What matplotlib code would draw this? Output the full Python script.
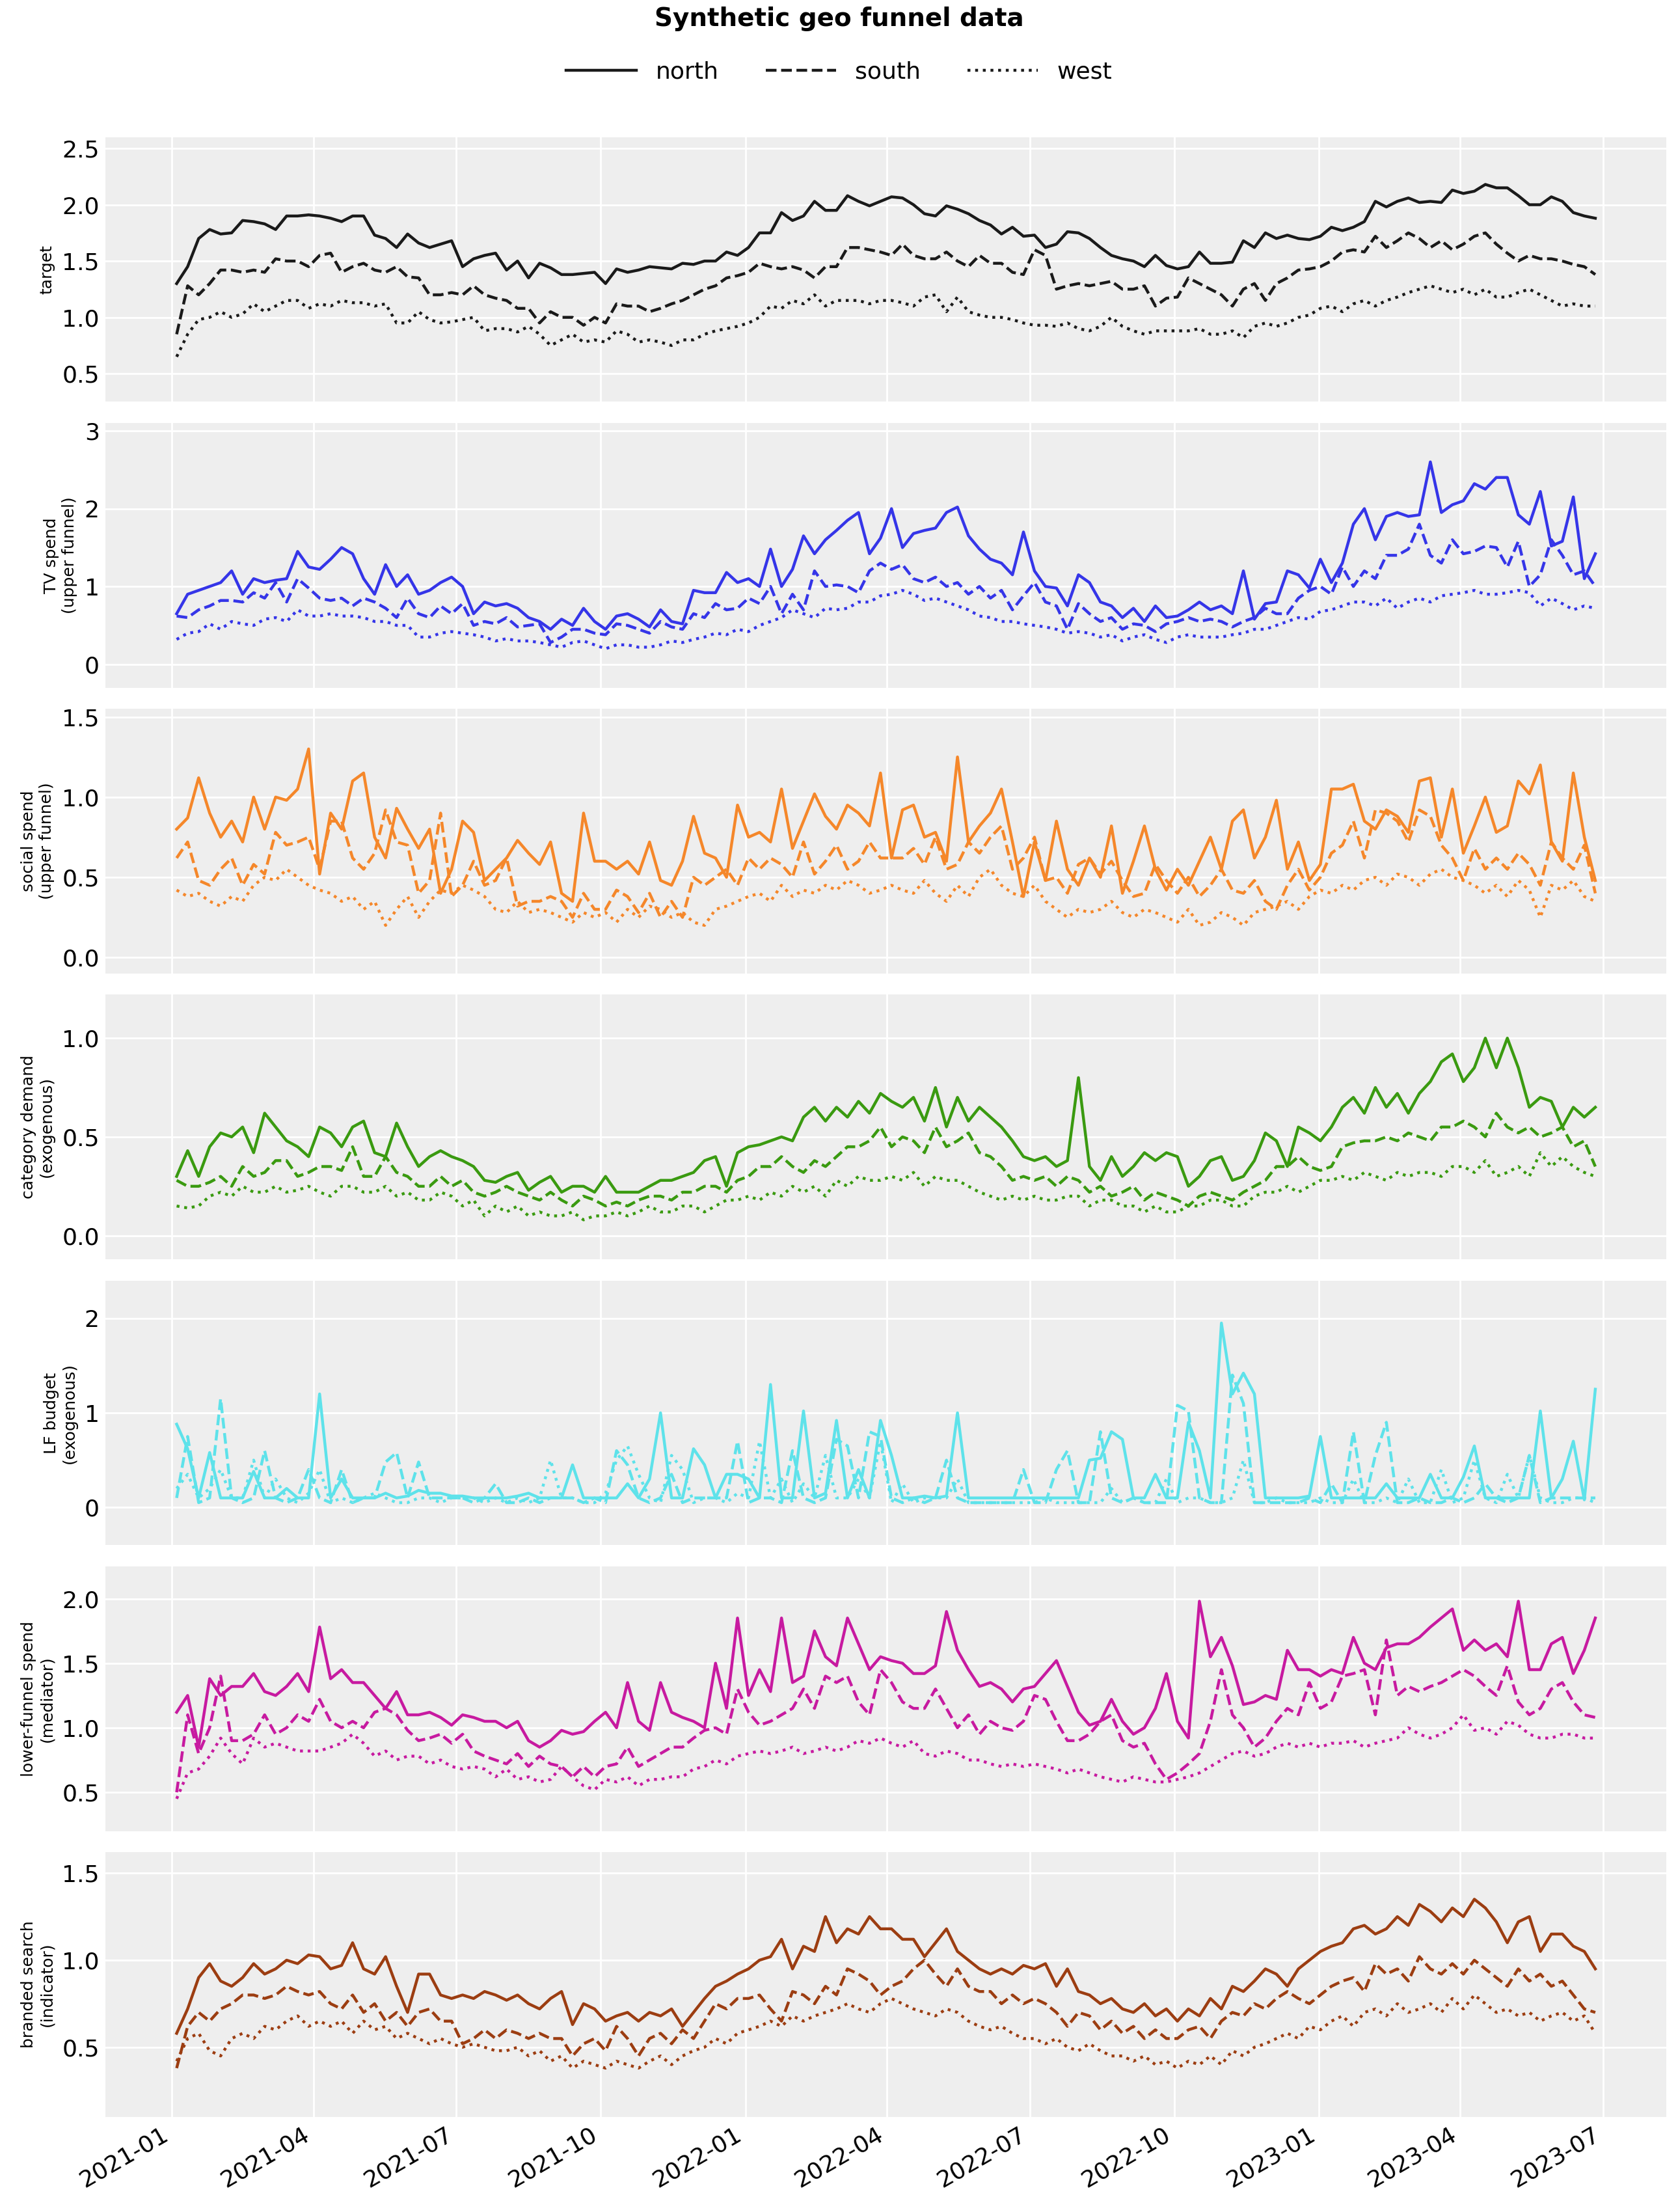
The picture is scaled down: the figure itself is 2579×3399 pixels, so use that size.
import matplotlib.pyplot as plt
import matplotlib.dates as mdates
import pandas as pd

dates = pd.date_range("2021-01-04", periods=130, freq="7D")
geos = ["north", "south", "west"]

target_north = [1.30,1.45,1.70,1.78,1.74,1.75,1.86,1.85,1.83,1.78,1.90,1.90,1.91,
 1.90,1.88,1.85,1.90,1.90,1.73,1.70,1.62,1.74,1.66,1.62,1.65,1.68,
 1.45,1.52,1.55,1.57,1.42,1.50,1.35,1.48,1.44,1.38,1.38,1.39,1.40,
 1.30,1.43,1.40,1.42,1.45,1.44,1.43,1.48,1.47,1.50,1.50,1.58,1.55,
 1.62,1.75,1.75,1.93,1.86,1.90,2.03,1.95,1.95,2.08,2.03,1.99,2.03,
 2.07,2.06,2.00,1.92,1.90,1.99,1.96,1.92,1.86,1.82,1.74,1.80,1.72,
 1.73,1.62,1.65,1.76,1.75,1.70,1.62,1.55,1.52,1.50,1.45,1.55,1.46,
 1.43,1.45,1.58,1.48,1.48,1.49,1.68,1.62,1.75,1.70,1.73,1.70,1.69,
 1.72,1.80,1.77,1.80,1.85,2.03,1.98,2.03,2.06,2.02,2.03,2.02,2.13,
 2.10,2.12,2.18,2.15,2.15,2.08,2.00,2.00,2.07,2.03,1.93,1.90,1.88]
target_south = [0.85,1.28,1.20,1.30,1.42,1.42,1.40,1.42,1.40,1.52,1.50,1.50,1.45,
 1.55,1.57,1.40,1.45,1.48,1.42,1.40,1.45,1.36,1.35,1.20,1.20,1.22,
 1.20,1.28,1.20,1.17,1.15,1.08,1.08,0.95,1.05,1.00,1.00,0.93,1.00,
 0.95,1.12,1.10,1.10,1.05,1.08,1.12,1.15,1.20,1.25,1.28,1.35,1.37,
 1.40,1.48,1.45,1.43,1.45,1.42,1.35,1.45,1.45,1.62,1.62,1.60,1.58,
 1.55,1.65,1.55,1.52,1.52,1.58,1.50,1.45,1.55,1.48,1.48,1.40,1.38,
 1.60,1.55,1.25,1.28,1.30,1.28,1.30,1.32,1.25,1.25,1.28,1.10,1.17,
 1.18,1.35,1.30,1.25,1.20,1.10,1.25,1.30,1.15,1.30,1.35,1.42,1.43,
 1.45,1.50,1.58,1.60,1.58,1.72,1.62,1.68,1.75,1.70,1.62,1.68,1.60,
 1.65,1.72,1.75,1.65,1.57,1.50,1.55,1.52,1.52,1.50,1.47,1.45,1.38]
target_west = [0.65,0.85,0.98,1.00,1.05,1.00,1.03,1.12,1.05,1.10,1.15,1.15,1.08,
 1.12,1.10,1.15,1.13,1.13,1.10,1.12,0.95,0.95,1.05,0.98,0.95,0.96,
 0.98,1.00,0.88,0.90,0.90,0.87,0.92,0.85,0.75,0.80,0.85,0.78,0.80,
 0.78,0.88,0.85,0.78,0.80,0.78,0.75,0.80,0.80,0.85,0.88,0.90,0.92,
 0.95,1.00,1.10,1.08,1.15,1.12,1.20,1.10,1.15,1.15,1.15,1.12,1.15,
 1.15,1.13,1.10,1.18,1.20,1.05,1.18,1.05,1.02,1.00,1.00,0.98,0.95,
 0.93,0.93,0.92,0.95,0.90,0.88,0.92,1.00,0.92,0.88,0.85,0.88,0.88,
 0.88,0.88,0.90,0.85,0.85,0.88,0.82,0.92,0.95,0.92,0.95,1.00,1.02,
 1.08,1.10,1.05,1.12,1.15,1.10,1.15,1.18,1.22,1.25,1.28,1.25,1.22,
 1.25,1.20,1.25,1.18,1.18,1.22,1.25,1.20,1.15,1.10,1.12,1.10,1.10]

tv_north = [0.65,0.90,0.95,1.00,1.05,1.20,0.90,1.10,1.05,1.08,1.10,1.45,1.25,
 1.22,1.35,1.50,1.42,1.10,0.90,1.28,1.00,1.15,0.90,0.95,1.05,1.12,
 1.00,0.65,0.80,0.75,0.78,0.72,0.60,0.55,0.45,0.58,0.50,0.72,0.55,
 0.45,0.62,0.65,0.58,0.48,0.70,0.55,0.52,0.95,0.92,0.92,1.18,1.05,
 1.10,1.00,1.48,1.00,1.22,1.65,1.42,1.60,1.72,1.85,1.95,1.42,1.62,
 2.00,1.50,1.68,1.72,1.75,1.95,2.02,1.65,1.48,1.35,1.30,1.15,1.70,
 1.20,1.00,0.98,0.75,1.15,1.05,0.80,0.75,0.60,0.72,0.55,0.75,0.60,
 0.62,0.70,0.80,0.70,0.75,0.65,1.20,0.58,0.78,0.80,1.20,1.15,0.98,
 1.35,1.05,1.30,1.80,2.00,1.60,1.90,1.95,1.90,1.92,2.60,1.95,2.05,
 2.10,2.32,2.25,2.40,2.40,1.92,1.80,2.22,1.52,1.58,2.15,1.10,1.42]
tv_south = [0.62,0.60,0.70,0.75,0.82,0.82,0.80,0.92,0.85,1.05,0.80,1.10,0.98,
 0.85,0.82,0.85,0.75,0.85,0.80,0.72,0.60,0.85,0.65,0.60,0.75,0.65,
 0.78,0.50,0.55,0.52,0.60,0.48,0.50,0.52,0.28,0.35,0.45,0.45,0.40,
 0.38,0.52,0.50,0.45,0.40,0.55,0.48,0.45,0.65,0.60,0.78,0.70,0.72,
 0.85,0.78,1.00,0.65,0.90,0.70,1.20,1.00,1.02,1.00,0.92,1.20,1.30,
 1.22,1.28,1.10,1.05,1.12,1.00,1.05,0.90,1.00,0.85,0.95,0.70,0.88,
 1.05,0.80,0.75,0.45,0.78,0.65,0.55,0.60,0.45,0.52,0.50,0.42,0.52,
 0.55,0.60,0.55,0.58,0.55,0.48,0.55,0.60,0.72,0.65,0.65,0.85,0.95,
 1.00,0.90,1.25,1.00,1.20,1.10,1.40,1.40,1.48,1.80,1.40,1.30,1.60,
 1.42,1.45,1.52,1.50,1.25,1.58,1.00,1.15,1.60,1.40,1.15,1.20,1.00]
tv_west = [0.32,0.40,0.42,0.52,0.45,0.55,0.52,0.50,0.58,0.60,0.55,0.70,0.62,
 0.62,0.65,0.62,0.62,0.60,0.55,0.55,0.50,0.50,0.35,0.35,0.40,0.42,
 0.40,0.38,0.35,0.30,0.33,0.30,0.30,0.28,0.25,0.22,0.28,0.30,0.25,
 0.20,0.25,0.25,0.22,0.22,0.25,0.30,0.28,0.32,0.35,0.40,0.38,0.45,
 0.42,0.50,0.55,0.60,0.70,0.65,0.60,0.72,0.70,0.72,0.80,0.80,0.88,
 0.90,0.95,0.90,0.82,0.85,0.80,0.75,0.70,0.62,0.60,0.55,0.55,0.52,
 0.50,0.48,0.45,0.40,0.42,0.40,0.35,0.38,0.30,0.35,0.38,0.32,0.28,
 0.35,0.38,0.35,0.35,0.35,0.38,0.40,0.45,0.45,0.50,0.55,0.60,0.58,
 0.68,0.70,0.75,0.80,0.80,0.75,0.85,0.72,0.80,0.85,0.80,0.88,0.90,
 0.92,0.95,0.90,0.90,0.92,0.95,0.92,0.75,0.85,0.78,0.70,0.75,0.72]

social_north = [0.80,0.87,1.12,0.90,0.75,0.85,0.72,1.00,0.80,1.00,0.98,1.05,1.30,
 0.52,0.90,0.80,1.10,1.15,0.75,0.62,0.93,0.80,0.68,0.80,0.40,0.55,
 0.85,0.78,0.48,0.55,0.62,0.73,0.65,0.58,0.72,0.40,0.35,0.90,0.60,
 0.60,0.55,0.60,0.52,0.72,0.48,0.45,0.60,0.88,0.65,0.62,0.50,0.95,
 0.75,0.78,0.72,1.05,0.68,0.85,1.02,0.88,0.80,0.95,0.90,0.82,1.15,
 0.62,0.92,0.95,0.75,0.78,0.60,1.25,0.72,0.82,0.90,1.05,0.72,0.38,
 0.72,0.48,0.85,0.55,0.45,0.62,0.50,0.82,0.40,0.60,0.82,0.55,0.42,
 0.55,0.45,0.60,0.75,0.55,0.85,0.92,0.62,0.75,0.98,0.55,0.72,0.48,
 0.58,1.05,1.05,1.08,0.85,0.80,0.92,0.88,0.78,1.10,1.12,0.75,1.05,
 0.65,0.82,1.00,0.78,0.82,1.10,1.02,1.20,0.72,0.60,1.15,0.75,0.48]
social_south = [0.62,0.72,0.48,0.45,0.55,0.62,0.45,0.58,0.52,0.78,0.70,0.72,0.75,
 0.55,0.85,0.85,0.62,0.55,0.65,0.92,0.72,0.70,0.40,0.48,0.90,0.38,
 0.45,0.60,0.45,0.48,0.62,0.32,0.35,0.35,0.38,0.35,0.25,0.40,0.30,
 0.30,0.42,0.38,0.28,0.40,0.25,0.35,0.25,0.50,0.45,0.50,0.55,0.45,
 0.62,0.55,0.62,0.58,0.50,0.72,0.52,0.60,0.70,0.55,0.60,0.72,0.62,
 0.62,0.62,0.68,0.58,0.75,0.55,0.58,0.72,0.65,0.75,0.82,0.55,0.62,
 0.75,0.48,0.50,0.40,0.58,0.62,0.52,0.60,0.48,0.38,0.40,0.58,0.48,
 0.40,0.50,0.38,0.45,0.55,0.42,0.40,0.48,0.35,0.30,0.45,0.55,0.42,
 0.50,0.65,0.70,0.85,0.62,0.92,0.90,0.85,0.72,0.92,0.88,0.70,0.62,
 0.48,0.68,0.55,0.62,0.55,0.65,0.58,0.45,0.72,0.62,0.55,0.70,0.40]
social_west = [0.42,0.38,0.40,0.35,0.32,0.38,0.35,0.45,0.50,0.48,0.55,0.50,0.45,
 0.42,0.40,0.35,0.38,0.30,0.35,0.20,0.30,0.38,0.25,0.35,0.42,0.40,
 0.45,0.42,0.38,0.30,0.28,0.35,0.28,0.30,0.28,0.25,0.22,0.28,0.25,
 0.28,0.22,0.30,0.25,0.32,0.30,0.25,0.28,0.22,0.20,0.30,0.32,0.35,
 0.38,0.40,0.35,0.45,0.38,0.42,0.40,0.45,0.42,0.48,0.45,0.40,0.42,
 0.45,0.42,0.40,0.48,0.40,0.35,0.45,0.38,0.50,0.55,0.45,0.40,0.38,
 0.45,0.35,0.30,0.25,0.30,0.28,0.30,0.35,0.28,0.25,0.30,0.28,0.25,
 0.22,0.30,0.20,0.22,0.28,0.25,0.20,0.28,0.30,0.32,0.35,0.30,0.38,
 0.42,0.40,0.45,0.42,0.48,0.50,0.45,0.52,0.50,0.45,0.52,0.55,0.50,
 0.48,0.45,0.40,0.45,0.38,0.48,0.42,0.25,0.45,0.42,0.48,0.38,0.35]

category_north = [0.30,0.43,0.30,0.45,0.52,0.50,0.55,0.42,0.62,0.55,0.48,0.45,0.40,
 0.55,0.52,0.45,0.55,0.58,0.42,0.40,0.57,0.45,0.35,0.40,0.43,0.40,
 0.38,0.35,0.28,0.27,0.30,0.32,0.23,0.27,0.30,0.22,0.25,0.25,0.22,
 0.30,0.22,0.22,0.22,0.25,0.28,0.28,0.30,0.32,0.38,0.40,0.25,0.42,
 0.45,0.46,0.48,0.50,0.48,0.60,0.65,0.58,0.65,0.60,0.68,0.62,0.72,
 0.68,0.65,0.70,0.58,0.75,0.55,0.70,0.58,0.65,0.60,0.55,0.48,0.40,
 0.38,0.40,0.35,0.38,0.80,0.35,0.28,0.40,0.30,0.35,0.42,0.38,0.42,
 0.40,0.25,0.30,0.38,0.40,0.28,0.30,0.38,0.52,0.48,0.35,0.55,0.52,
 0.48,0.55,0.65,0.70,0.62,0.75,0.65,0.72,0.62,0.72,0.78,0.88,0.92,
 0.78,0.85,1.00,0.85,1.00,0.85,0.65,0.70,0.68,0.55,0.65,0.60,0.65]
category_south = [0.28,0.25,0.25,0.27,0.30,0.25,0.35,0.30,0.32,0.38,0.38,0.30,0.32,
 0.35,0.35,0.33,0.45,0.30,0.30,0.40,0.32,0.30,0.25,0.25,0.30,0.25,
 0.28,0.22,0.20,0.22,0.25,0.22,0.20,0.18,0.22,0.18,0.15,0.20,0.18,
 0.15,0.17,0.15,0.18,0.20,0.20,0.18,0.22,0.22,0.25,0.25,0.22,0.28,
 0.30,0.35,0.35,0.40,0.35,0.32,0.38,0.35,0.40,0.45,0.45,0.48,0.55,
 0.45,0.50,0.48,0.42,0.55,0.45,0.48,0.52,0.42,0.40,0.35,0.28,0.30,
 0.28,0.30,0.25,0.30,0.28,0.22,0.25,0.20,0.22,0.25,0.18,0.22,0.20,
 0.18,0.15,0.20,0.22,0.20,0.18,0.22,0.25,0.28,0.35,0.35,0.40,0.35,
 0.33,0.35,0.45,0.47,0.48,0.48,0.50,0.48,0.52,0.50,0.48,0.55,0.55,
 0.58,0.55,0.50,0.62,0.55,0.52,0.55,0.50,0.52,0.55,0.45,0.48,0.35]
category_west = [0.15,0.14,0.15,0.20,0.22,0.20,0.25,0.22,0.22,0.25,0.22,0.23,0.25,
 0.22,0.20,0.25,0.25,0.22,0.22,0.25,0.20,0.22,0.18,0.18,0.22,0.20,
 0.15,0.18,0.10,0.15,0.12,0.15,0.10,0.12,0.10,0.10,0.12,0.08,0.10,
 0.10,0.12,0.10,0.12,0.15,0.12,0.12,0.15,0.15,0.12,0.15,0.18,0.18,
 0.20,0.18,0.22,0.20,0.25,0.22,0.25,0.20,0.28,0.25,0.30,0.28,0.28,
 0.30,0.28,0.32,0.25,0.30,0.28,0.28,0.25,0.22,0.20,0.18,0.20,0.18,
 0.20,0.18,0.18,0.20,0.20,0.15,0.18,0.18,0.15,0.15,0.12,0.15,0.12,
 0.12,0.15,0.15,0.18,0.18,0.15,0.15,0.20,0.22,0.22,0.25,0.22,0.25,
 0.28,0.28,0.30,0.28,0.32,0.30,0.28,0.32,0.30,0.32,0.32,0.30,0.35,
 0.35,0.32,0.38,0.30,0.32,0.35,0.30,0.42,0.35,0.40,0.35,0.32,0.30]

lf_budget_north = [0.88,0.62,0.10,0.58,0.10,0.10,0.10,0.38,0.10,0.10,0.20,0.10,0.10,
 1.20,0.10,0.30,0.10,0.10,0.10,0.15,0.10,0.12,0.18,0.15,0.15,0.12,
 0.12,0.10,0.10,0.10,0.10,0.12,0.15,0.10,0.10,0.10,0.45,0.10,0.10,
 0.10,0.10,0.25,0.10,0.30,1.00,0.10,0.10,0.62,0.45,0.10,0.35,0.35,
 0.30,0.10,1.30,0.10,0.10,1.02,0.10,0.15,0.92,0.10,0.40,0.10,0.92,
 0.55,0.10,0.10,0.12,0.10,0.12,1.00,0.10,0.10,0.10,0.10,0.10,0.10,
 0.10,0.10,0.10,0.10,0.10,0.50,0.52,0.80,0.72,0.10,0.10,0.35,0.10,
 0.10,0.90,0.60,0.10,1.95,1.20,1.42,1.20,0.10,0.10,0.10,0.10,0.12,
 0.75,0.10,0.10,0.10,0.10,0.10,0.25,0.10,0.10,0.10,0.35,0.10,0.10,
 0.32,0.65,0.10,0.10,0.10,0.10,0.10,1.02,0.10,0.30,0.70,0.08,1.25]
lf_budget_south = [0.10,0.75,0.05,0.10,1.15,0.10,0.05,0.10,0.60,0.10,0.05,0.10,0.40,
 0.10,0.05,0.40,0.05,0.10,0.10,0.48,0.58,0.10,0.48,0.10,0.10,0.10,
 0.10,0.05,0.10,0.25,0.05,0.05,0.10,0.05,0.10,0.10,0.10,0.05,0.10,
 0.05,0.60,0.45,0.10,0.05,0.10,0.35,0.05,0.10,0.10,0.10,0.10,0.70,
 0.05,0.10,0.10,0.05,0.60,0.10,0.05,0.10,0.72,0.65,0.10,0.80,0.75,
 0.10,0.05,0.10,0.05,0.10,0.50,0.10,0.05,0.05,0.05,0.05,0.05,0.40,
 0.05,0.05,0.40,0.60,0.05,0.05,0.80,0.10,0.05,0.10,0.05,0.05,0.05,
 1.08,1.02,0.10,0.05,0.05,1.40,1.10,0.05,0.05,0.05,0.05,0.05,0.10,
 0.05,0.25,0.05,0.80,0.05,0.55,0.90,0.05,0.05,0.10,0.05,0.05,0.10,
 0.05,0.10,0.25,0.10,0.05,0.10,0.55,0.05,0.10,0.10,0.10,0.10,0.10]
lf_budget_west = [0.20,0.35,0.10,0.20,0.40,0.10,0.10,0.50,0.10,0.30,0.10,0.05,0.15,
 0.40,0.05,0.10,0.05,0.10,0.15,0.10,0.05,0.05,0.10,0.10,0.05,0.10,
 0.10,0.10,0.05,0.10,0.05,0.10,0.05,0.10,0.50,0.10,0.10,0.05,0.05,
 0.15,0.50,0.65,0.35,0.10,0.05,0.55,0.40,0.05,0.10,0.10,0.05,0.15,
 0.10,0.70,0.10,0.30,0.05,0.25,0.10,0.55,0.10,0.10,0.30,0.10,0.70,
 0.05,0.25,0.05,0.10,0.10,0.10,0.30,0.05,0.05,0.05,0.05,0.05,0.05,
 0.05,0.10,0.05,0.05,0.05,0.05,0.05,0.20,0.05,0.10,0.05,0.05,0.30,
 0.05,0.10,0.10,0.05,0.05,0.10,0.50,0.05,0.05,0.10,0.05,0.05,0.05,
 0.10,0.05,0.05,0.30,0.05,0.05,0.10,0.05,0.30,0.05,0.05,0.40,0.05,
 0.10,0.50,0.10,0.05,0.35,0.10,0.55,0.10,0.05,0.05,0.10,0.10,0.05]

lf_spend_north = [1.12,1.25,0.85,1.38,1.25,1.32,1.32,1.42,1.28,1.25,1.32,1.42,1.28,
 1.78,1.38,1.45,1.35,1.35,1.25,1.15,1.28,1.10,1.10,1.12,1.08,1.02,
 1.10,1.08,1.05,1.05,1.00,1.05,0.90,0.85,0.90,0.98,0.95,0.97,1.05,
 1.12,1.00,1.35,1.05,0.98,1.35,1.12,1.08,1.05,1.00,1.50,1.15,1.85,
 1.25,1.45,1.28,1.85,1.35,1.40,1.75,1.55,1.48,1.85,1.65,1.45,1.55,
 1.52,1.50,1.42,1.42,1.48,1.90,1.60,1.45,1.32,1.35,1.30,1.20,1.30,
 1.32,1.42,1.52,1.32,1.12,1.02,1.05,1.22,1.05,0.95,1.00,1.15,1.42,
 1.05,0.92,1.98,1.55,1.70,1.48,1.18,1.20,1.25,1.22,1.60,1.45,1.45,
 1.40,1.45,1.42,1.70,1.50,1.45,1.62,1.65,1.65,1.70,1.78,1.85,1.92,
 1.60,1.68,1.60,1.65,1.55,1.98,1.45,1.45,1.65,1.70,1.42,1.60,1.85]
lf_spend_south = [0.50,1.10,0.80,1.00,1.40,0.90,0.90,0.95,1.10,0.95,1.00,1.10,1.05,
 1.22,1.05,1.00,1.05,1.00,1.12,1.15,1.10,0.98,0.90,0.92,0.95,0.88,
 0.95,0.82,0.78,0.75,0.72,0.80,0.70,0.78,0.72,0.70,0.62,0.70,0.62,
 0.70,0.72,0.85,0.70,0.75,0.80,0.85,0.85,0.92,0.98,1.00,0.95,1.30,
 1.12,1.02,1.05,1.10,1.15,1.30,1.15,1.40,1.35,1.40,1.20,1.10,1.45,
 1.35,1.20,1.15,1.15,1.30,1.15,1.00,1.10,0.95,1.05,1.00,0.98,1.05,
 1.25,1.22,1.05,0.90,0.90,0.95,1.05,1.10,0.90,0.85,0.88,0.72,0.60,
 0.65,0.72,0.80,1.05,1.45,1.10,1.00,0.85,0.92,1.05,1.15,1.10,1.35,
 1.15,1.20,1.40,1.42,1.45,1.10,1.68,1.25,1.32,1.28,1.32,1.35,1.40,
 1.45,1.40,1.32,1.25,1.48,1.20,1.10,1.15,1.30,1.35,1.20,1.10,1.08]
lf_spend_west = [0.45,0.65,0.68,0.78,0.92,0.80,0.72,0.92,0.85,0.88,0.85,0.82,0.82,
 0.82,0.85,0.88,0.95,0.88,0.78,0.82,0.75,0.78,0.78,0.72,0.75,0.70,
 0.68,0.70,0.68,0.62,0.68,0.60,0.62,0.58,0.60,0.70,0.62,0.55,0.52,
 0.60,0.58,0.62,0.55,0.60,0.60,0.62,0.62,0.68,0.70,0.75,0.72,0.78,
 0.80,0.82,0.80,0.82,0.85,0.80,0.82,0.85,0.82,0.85,0.90,0.88,0.92,
 0.88,0.85,0.90,0.80,0.78,0.82,0.80,0.75,0.75,0.72,0.70,0.72,0.70,
 0.72,0.70,0.68,0.65,0.68,0.65,0.62,0.60,0.58,0.62,0.60,0.58,0.58,
 0.60,0.62,0.65,0.70,0.75,0.80,0.82,0.78,0.80,0.85,0.88,0.85,0.88,
 0.85,0.88,0.88,0.90,0.85,0.88,0.90,0.92,1.00,0.95,0.92,0.95,1.00,
 1.10,0.98,1.00,0.95,1.05,1.02,0.95,0.92,0.92,0.95,0.95,0.92,0.92]

branded_north = [0.58,0.72,0.90,0.98,0.88,0.85,0.90,0.98,0.92,0.95,1.00,0.98,1.03,
 1.02,0.95,0.97,1.10,0.95,0.92,1.02,0.85,0.70,0.92,0.92,0.80,0.78,
 0.80,0.78,0.82,0.80,0.77,0.80,0.75,0.72,0.78,0.82,0.63,0.75,0.72,
 0.65,0.68,0.70,0.65,0.70,0.68,0.72,0.62,0.70,0.78,0.85,0.88,0.92,
 0.95,1.00,1.02,1.12,0.95,1.08,1.05,1.25,1.10,1.18,1.15,1.25,1.18,
 1.18,1.12,1.12,1.02,1.10,1.18,1.05,1.00,0.95,0.92,0.95,0.92,0.97,
 0.95,0.98,0.85,0.95,0.82,0.80,0.75,0.78,0.72,0.70,0.75,0.68,0.72,
 0.65,0.72,0.68,0.78,0.72,0.85,0.82,0.88,0.95,0.92,0.85,0.95,1.00,
 1.05,1.08,1.10,1.18,1.20,1.15,1.18,1.25,1.20,1.32,1.28,1.22,1.30,
 1.25,1.35,1.30,1.22,1.10,1.22,1.25,1.05,1.15,1.15,1.08,1.05,0.95]
branded_south = [0.38,0.62,0.70,0.65,0.72,0.75,0.80,0.80,0.78,0.80,0.85,0.82,0.80,
 0.82,0.75,0.72,0.80,0.70,0.75,0.65,0.70,0.62,0.70,0.72,0.65,0.65,
 0.52,0.55,0.60,0.55,0.60,0.58,0.55,0.58,0.55,0.55,0.45,0.52,0.55,
 0.48,0.62,0.55,0.45,0.55,0.58,0.52,0.60,0.55,0.65,0.75,0.72,0.78,
 0.78,0.80,0.72,0.65,0.82,0.80,0.75,0.85,0.80,0.95,0.92,0.88,0.80,
 0.85,0.88,0.95,1.00,0.92,0.85,0.95,0.85,0.82,0.82,0.75,0.80,0.75,
 0.78,0.75,0.70,0.62,0.70,0.68,0.60,0.65,0.58,0.62,0.55,0.60,0.55,
 0.55,0.60,0.62,0.55,0.65,0.70,0.68,0.75,0.72,0.78,0.82,0.78,0.75,
 0.80,0.85,0.88,0.90,0.82,0.98,0.92,0.95,0.88,1.02,0.95,0.92,0.98,
 0.92,1.00,0.95,0.90,0.85,0.95,0.88,0.92,0.85,0.88,0.80,0.72,0.70]
branded_west = [0.42,0.55,0.58,0.48,0.45,0.55,0.58,0.55,0.62,0.60,0.65,0.68,0.62,
 0.65,0.62,0.65,0.58,0.65,0.60,0.62,0.55,0.58,0.55,0.52,0.55,0.52,
 0.50,0.52,0.50,0.48,0.48,0.50,0.45,0.48,0.42,0.45,0.38,0.42,0.40,
 0.38,0.42,0.40,0.38,0.42,0.45,0.40,0.45,0.48,0.50,0.55,0.52,0.58,
 0.60,0.62,0.65,0.62,0.68,0.65,0.68,0.70,0.72,0.75,0.72,0.70,0.75,
 0.78,0.75,0.72,0.70,0.68,0.72,0.70,0.65,0.62,0.60,0.62,0.58,0.55,
 0.55,0.52,0.55,0.50,0.48,0.52,0.48,0.45,0.45,0.42,0.45,0.40,0.42,
 0.38,0.42,0.40,0.45,0.40,0.48,0.45,0.50,0.52,0.55,0.58,0.55,0.62,
 0.60,0.65,0.68,0.62,0.70,0.72,0.68,0.75,0.70,0.72,0.75,0.70,0.78,
 0.72,0.80,0.75,0.70,0.72,0.68,0.70,0.65,0.68,0.70,0.65,0.68,0.58]

panels = [
    ("target", [target_north, target_south, target_west], "#1a1a1a", (0.25, 2.6), [0.5, 1.0, 1.5, 2.0, 2.5]),
    ("TV spend\n(upper funnel)", [tv_north, tv_south, tv_west], "#3535e8", (-0.3, 3.1), [0, 1, 2, 3]),
    ("social spend\n(upper funnel)", [social_north, social_south, social_west], "#f5872a", (-0.1, 1.55), [0.0, 0.5, 1.0, 1.5]),
    ("category demand\n(exogenous)", [category_north, category_south, category_west], "#3a9a10", (-0.12, 1.22), [0.0, 0.5, 1.0]),
    ("LF budget\n(exogenous)", [lf_budget_north, lf_budget_south, lf_budget_west], "#5ee2ea", (-0.4, 2.4), [0, 1, 2]),
    ("lower-funnel spend\n(mediator)", [lf_spend_north, lf_spend_south, lf_spend_west], "#c71aa0", (0.2, 2.25), [0.5, 1.0, 1.5, 2.0]),
    ("branded search\n(indicator)", [branded_north, branded_south, branded_west], "#9c3d11", (0.1, 1.62), [0.5, 1.0, 1.5]),
]
styles = ["-", "--", ":"]

fig, axes = plt.subplots(7, 1, figsize=(12.895, 16.995), dpi=200, sharex=True)
fig.subplots_adjust(left=0.063, right=0.993, top=0.938, bottom=0.043, hspace=0.08)

for ax, (label, series, color, ylim, yt) in zip(axes, panels):
    ax.set_facecolor("#eeeeee")
    ax.grid(color="white", linewidth=1.0)
    ax.set_axisbelow(True)
    for s in ax.spines.values():
        s.set_visible(False)
    for vals, ls in zip(series, styles):
        ax.plot(dates, vals, color=color, linestyle=ls, linewidth=1.6)
    ax.set_ylim(*ylim)
    ax.set_yticks(yt)
    ax.set_ylabel(label, fontsize=9)
    ax.tick_params(labelsize=13, length=0)

axes[-1].xaxis.set_major_locator(mdates.MonthLocator(bymonth=[1, 4, 7, 10]))
axes[-1].xaxis.set_major_formatter(mdates.DateFormatter("%Y-%m"))
axes[-1].margins(x=0.05)
plt.setp(axes[-1].get_xticklabels(), rotation=30, ha="right")

handles = [plt.Line2D([], [], color="#1a1a1a", linestyle=ls, linewidth=1.6) for ls in styles]
fig.legend(handles, geos, loc="upper center", ncol=3, frameon=False, fontsize=13,
           bbox_to_anchor=(0.5, 0.982), handlelength=3, columnspacing=2.0)
fig.suptitle("Synthetic geo funnel data", fontsize=14, fontweight="bold", y=0.997)

fig.savefig("out.png", dpi=200)
